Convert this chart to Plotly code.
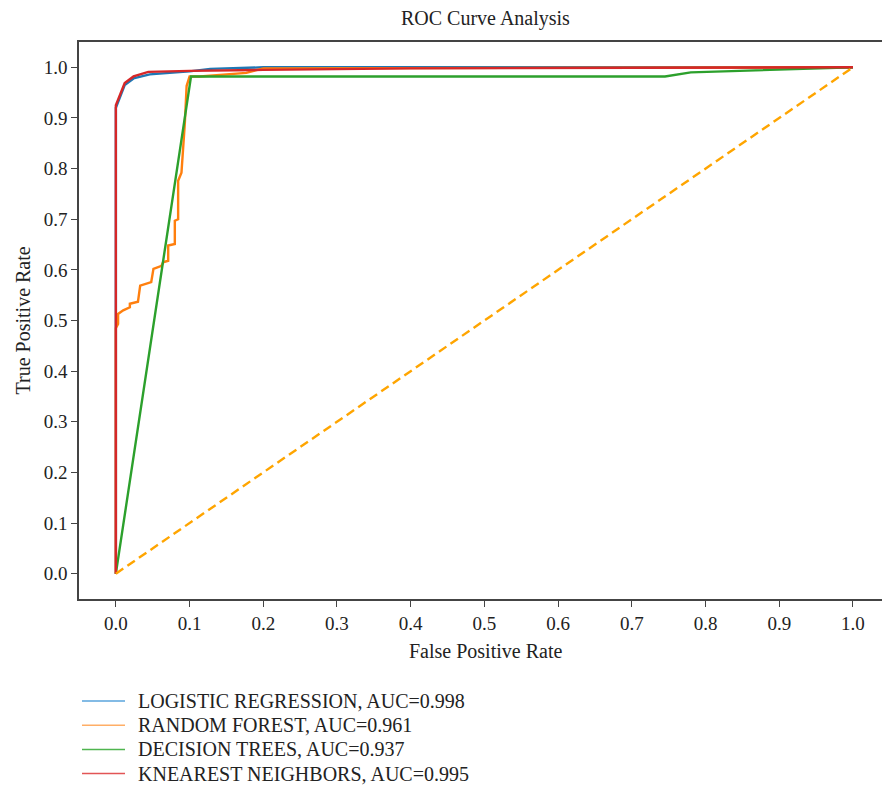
import plotly.graph_objects as go

# ROC points per classifier
lr_fpr = [0, 0, 0.012, 0.024, 0.046, 0.1, 0.128, 0.2, 1.0]
lr_tpr = [0, 0.92, 0.965, 0.978, 0.986, 0.992, 0.997, 1.0, 1.0]

rf_fpr = [0, 0, 0.003, 0.003, 0.01, 0.019, 0.019, 0.03, 0.033, 0.048, 0.051, 0.062,
          0.064, 0.071, 0.071, 0.080, 0.080, 0.0845, 0.0845, 0.089, 0.0936, 0.096,
          0.1, 0.114, 0.177, 0.186, 0.2, 1.0]
rf_tpr = [0, 0.485, 0.493, 0.513, 0.52, 0.526, 0.533, 0.537, 0.569, 0.576, 0.602, 0.608,
          0.615, 0.618, 0.648, 0.651, 0.697, 0.700, 0.776, 0.792, 0.890, 0.963,
          0.982, 0.982, 0.989, 0.992, 0.998, 1.0]

dt_fpr = [0, 0.102, 0.745, 0.78, 1.0]
dt_tpr = [0, 0.982, 0.982, 0.99, 1.0]

knn_fpr = [0, 0, 0.012, 0.024, 0.044, 0.1, 0.2, 0.4, 1.0]
knn_tpr = [0, 0.925, 0.969, 0.982, 0.991, 0.993, 0.995, 0.998, 1.0]

chance = [0, 1]

names = ["LOGISTIC REGRESSION, AUC=0.998", "RANDOM FOREST, AUC=0.961",
         "DECISION TREES, AUC=0.937", "KNEAREST NEIGHBORS, AUC=0.995"]
colors = ["#1f77b4", "#ff7f0e", "#2ca02c", "#d62728"]
legend_colors = ["#5aa5dc", "#ffae66", "#4fb54f", "#e25556"]
ticks = [0.0, 0.1, 0.2, 0.3, 0.4, 0.5, 0.6, 0.7, 0.8, 0.9, 1.0]

FONT = "Liberation Serif"
TEXT = "#222222"
AXIS = "#444444"

W, H = 882, 786
L, R, T, B = 79, 0, 42, 187
plot_w, plot_h = W - L - R, H - T - B

fig = go.Figure()

curves = [(lr_fpr, lr_tpr), (rf_fpr, rf_tpr), (dt_fpr, dt_tpr), (knn_fpr, knn_tpr)]
for (fx, ty), c, n in zip(curves, colors, names):
    fig.add_trace(go.Scatter(x=fx, y=ty, mode="lines", name=n,
                             line=dict(color=c, width=2.4), showlegend=False))

fig.add_trace(go.Scatter(x=chance, y=chance, mode="lines", name="chance",
                         line=dict(color="#ffa500", width=2.4, dash="9px,5px"),
                         showlegend=False))

# Legend block below the axes: a short swatch line and a label per classifier
annotations = []
shapes = []
row0_px, row_step_px = 701, 24.2
for i, (n, c) in enumerate(zip(names, legend_colors)):
    yp = -(row0_px + i * row_step_px - (H - B)) / plot_h
    shapes.append(dict(type="line", xref="paper", yref="paper",
                       x0=3 / plot_w, x1=46 / plot_w, y0=yp, y1=yp,
                       line=dict(color=c, width=1.5)))
    annotations.append(dict(text=n, x=57 / plot_w, y=yp, xref="paper", yref="paper",
                            xanchor="left", yanchor="middle", showarrow=False,
                            font=dict(family=FONT, size=20, color=TEXT)))

center_x = (485 - L) / plot_w
annotations += [
    dict(text="ROC Curve Analysis", x=center_x, y=1, xref="paper", yref="paper",
         xanchor="center", yanchor="middle", yshift=24, showarrow=False,
         font=dict(family=FONT, size=20, color=TEXT)),
    dict(text="False Positive Rate", x=center_x, y=0, xref="paper", yref="paper",
         xanchor="center", yanchor="middle", yshift=-52, showarrow=False,
         font=dict(family=FONT, size=20, color=TEXT)),
    dict(text="True Positive Rate", x=0, y=0.5, xref="paper", yref="paper",
         xanchor="center", yanchor="middle", xshift=-57, textangle=-90,
         showarrow=False, font=dict(family=FONT, size=20, color=TEXT)),
]

fig.update_layout(
    width=W, height=H,
    margin=dict(l=L, r=R, t=T, b=B),
    plot_bgcolor="white", paper_bgcolor="white",
    font=dict(family=FONT, size=19, color=TEXT),
    showlegend=False,
    annotations=annotations,
    shapes=shapes,
)

fig.update_xaxes(range=[-0.05, 1.0394], tickvals=ticks,
                 ticktext=[f"{t:.1f}" for t in ticks],
                 tickfont=dict(family=FONT, size=19, color=TEXT),
                 showgrid=False, zeroline=False, showline=True, mirror=True,
                 linecolor=AXIS, linewidth=1.5, ticks="outside", ticklen=6,
                 tickwidth=1.3, tickcolor=AXIS)
fig.update_yaxes(range=[-0.05, 1.05], tickvals=ticks,
                 ticktext=[f"{t:.1f}" for t in ticks],
                 tickfont=dict(family=FONT, size=19, color=TEXT),
                 showgrid=False, zeroline=False, showline=True, mirror=False,
                 linecolor=AXIS, linewidth=1.5, ticks="outside", ticklen=6,
                 tickwidth=1.3, tickcolor=AXIS)

fig.write_html("out.html")
